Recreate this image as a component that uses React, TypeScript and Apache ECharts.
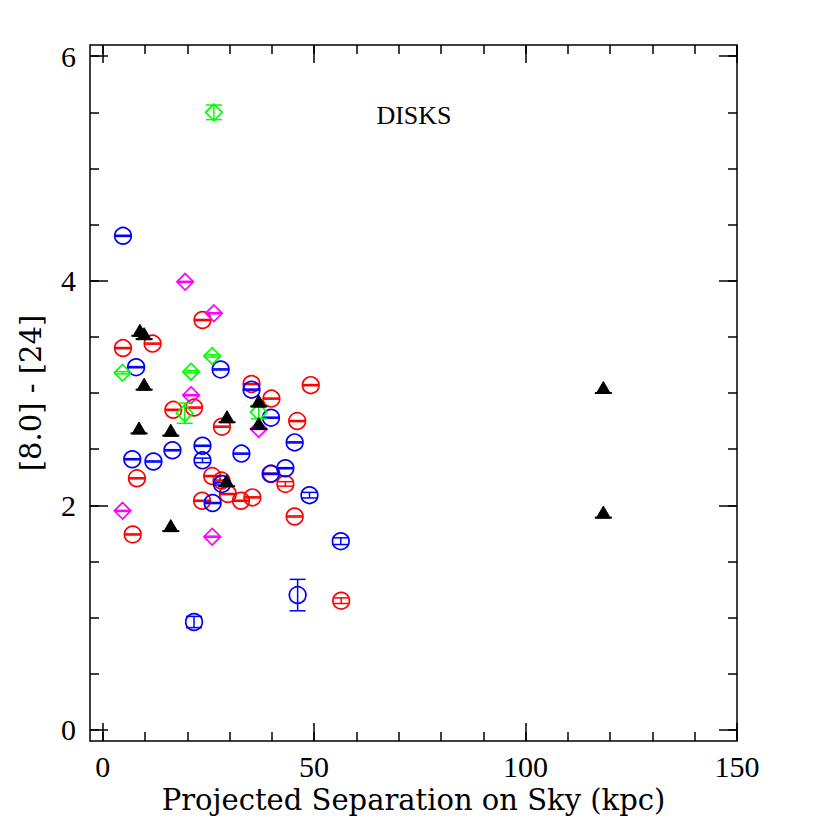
import React, { useEffect, useRef } from "react";
import * as echarts from "echarts";

const X_MIN = -3;
const X_MAX = 150;
const Y_MIN = -0.1;
const Y_MAX = 6.1;

const xMajorTicks = [0, 50, 100, 150];
const xMinorTicks = [0, 10, 20, 30, 40, 50, 60, 70, 80, 90, 100, 110, 120, 130, 140, 150];
const yMajorTicks = [0, 2, 4, 6];
const yMinorTicks = [0, 0.5, 1, 1.5, 2, 2.5, 3, 3.5, 4, 4.5, 5, 5.5, 6];

const xTitle = "Projected Separation on Sky (kpc)";
const yTitle = "[8.0] - [24]";
const panelLabel = "DISKS";

// red open circles
const redX = [4.8, 11.8, 23.6, 35.2, 39.9, 49.2, 16.7, 21.6, 28.2, 46.0, 8.1, 25.9, 28.1, 29.6, 23.5, 32.7, 35.4, 39.9, 43.2, 45.4, 7.1, 56.4];
const redY = [3.40, 3.44, 3.65, 3.08, 2.95, 3.07, 2.85, 2.87, 2.70, 2.75, 2.24, 2.26, 2.22, 2.10, 2.04, 2.04, 2.07, 2.28, 2.19, 1.90, 1.74, 1.15];
const redErr = [0.005, 0.005, 0.005, 0.005, 0.005, 0.005, 0.005, 0.005, 0.005, 0.005, 0.005, 0.005, 0.005, 0.005, 0.005, 0.005, 0.005, 0.005, 0.02, 0.005, 0.005, 0.025];

// blue open circles
const blueX = [4.8, 7.9, 27.9, 35.2, 39.8, 16.5, 23.6, 23.6, 7.0, 12.0, 32.8, 45.4, 43.2, 39.7, 28.2, 26.0, 48.9, 56.3, 21.6, 46.1];
const blueY = [4.40, 3.23, 3.21, 3.03, 2.78, 2.49, 2.53, 2.40, 2.41, 2.39, 2.46, 2.56, 2.33, 2.28, 2.19, 2.02, 2.09, 1.68, 0.96, 1.20];
const blueErr = [0.005, 0.005, 0.005, 0.005, 0.005, 0.005, 0.005, 0.02, 0.005, 0.005, 0.005, 0.005, 0.005, 0.005, 0.01, 0.005, 0.025, 0.03, 0.05, 0.14];

// magenta open diamonds
const magX = [19.5, 26.3, 20.9, 36.9, 4.7, 25.9];
const magY = [3.99, 3.71, 2.98, 2.68, 1.95, 1.72];
const magErr = [0.005, 0.005, 0.005, 0.005, 0.005, 0.005];

// green open diamonds
const greenX = [26.3, 25.9, 4.7, 20.9, 19.4, 36.9];
const greenY = [5.50, 3.33, 3.18, 3.19, 2.82, 2.83];
const greenErr = [0.065, 0.01, 0.01, 0.01, 0.09, 0.06];

// black filled triangles
const blackX = [8.8, 9.8, 9.8, 8.6, 16.1, 29.4, 36.9, 36.9, 29.3, 16.1, 118.4, 118.4];
const blackY = [3.55, 3.52, 3.07, 2.68, 2.66, 2.78, 2.92, 2.72, 2.21, 1.81, 3.04, 1.93];
const blackErr = [0.005, 0.005, 0.005, 0.005, 0.005, 0.005, 0.005, 0.005, 0.005, 0.005, 0.005, 0.005];

const SERIF = "Liberation Serif";
const TITLE_FONT = "DejaVu Serif";

function markerSeries(name: string, xs: number[], ys: number[], es: number[], kind: string, color: string, z: number) {
  const data = xs.map((x, i) => [x, ys[i], es[i]]);
  return {
    type: "custom",
    name,
    z,
    xAxisIndex: 0,
    yAxisIndex: 0,
    data,
    renderItem: (params: any, api: any) => {
      const x = api.value(0) as number;
      const y = api.value(1) as number;
      const e = api.value(2) as number;
      const c = api.coord([x, y]);
      const cx = c[0];
      const cy = c[1];
      const yt = api.coord([x, y + e])[1];
      const yb = api.coord([x, y - e])[1];
      const children: any[] = [];
      const ls = { stroke: color, lineWidth: 1.7, fill: null };
      const cap = 8;
      if (kind === "triangle") {
        children.push({
          type: "polygon",
          shape: { points: [[cx, cy - 7], [cx - 7, cy + 5], [cx + 7, cy + 5]] },
          style: { fill: color, stroke: color, lineWidth: 1 },
        });
        children.push({ type: "line", shape: { x1: cx - 8.5, y1: cy + 4.5, x2: cx + 8.5, y2: cy + 4.5 }, style: { stroke: color, lineWidth: 2 } });
        children.push({ type: "line", shape: { x1: cx, y1: yt, x2: cx, y2: yb }, style: { stroke: color, lineWidth: 1.5 } });
        return { type: "group", children };
      }
      if (kind === "circle") {
        children.push({ type: "circle", shape: { cx, cy, r: 8.3 }, style: ls });
      } else {
        children.push({
          type: "polygon",
          shape: { points: [[cx, cy - 8.3], [cx + 8.3, cy], [cx, cy + 8.3], [cx - 8.3, cy]] },
          style: ls,
        });
      }
      children.push({ type: "line", shape: { x1: cx, y1: yt, x2: cx, y2: yb }, style: { stroke: color, lineWidth: 1.5 } });
      children.push({ type: "line", shape: { x1: cx - cap, y1: yt, x2: cx + cap, y2: yt }, style: { stroke: color, lineWidth: 1.5 } });
      children.push({ type: "line", shape: { x1: cx - cap, y1: yb, x2: cx + cap, y2: yb }, style: { stroke: color, lineWidth: 1.5 } });
      return { type: "group", children };
    },
  };
}

function makeXAxis(pos: string, ticks: number[], len: number, withLabel: boolean, withName: boolean) {
  const ax: any = {
    type: "value",
    gridIndex: 0,
    min: X_MIN,
    max: X_MAX,
    position: pos,
    axisLine: { show: false, onZero: false },
    splitLine: { show: false },
    axisTick: { show: true, inside: true, length: len, customValues: ticks, lineStyle: { color: "#000", width: 1.5 } },
    axisLabel: withLabel
      ? { show: true, customValues: ticks, margin: 10, color: "#000", fontFamily: SERIF, fontSize: 30 }
      : { show: false },
  };
  if (withName) {
    ax.name = xTitle;
    ax.nameLocation = "middle";
    ax.nameGap = 44;
    ax.nameTextStyle = { color: "#000", fontFamily: TITLE_FONT, fontSize: 29 };
  }
  return ax;
}

function makeYAxis(pos: string, ticks: number[], len: number, withLabel: boolean, withName: boolean) {
  const ax: any = {
    type: "value",
    gridIndex: 0,
    min: Y_MIN,
    max: Y_MAX,
    position: pos,
    axisLine: { show: false, onZero: false },
    splitLine: { show: false },
    axisTick: { show: true, inside: true, length: len, customValues: ticks, lineStyle: { color: "#000", width: 1.5 } },
    axisLabel: withLabel
      ? { show: true, customValues: ticks, margin: 14, color: "#000", fontFamily: SERIF, fontSize: 30 }
      : { show: false },
  };
  if (withName) {
    ax.name = yTitle;
    ax.nameLocation = "middle";
    ax.nameGap = 45;
    ax.nameTextStyle = { color: "#000", fontFamily: TITLE_FONT, fontSize: 29 };
  }
  return ax;
}

export default function App() {
  const ref = useRef<HTMLDivElement>(null);
  useEffect(() => {
    if (!ref.current) return;
    const chart = echarts.init(ref.current, null, { renderer: "svg" });
    chart.setOption({
      animation: false,
      backgroundColor: "#fff",
      grid: { left: 90, right: 93, top: 45, bottom: 89, show: true, borderColor: "#000", borderWidth: 1.5, backgroundColor: "transparent" },
      xAxis: [
        makeXAxis("bottom", xMajorTicks, 18, true, true),
        makeXAxis("bottom", xMinorTicks, 9, false, false),
        makeXAxis("top", xMajorTicks, 18, false, false),
        makeXAxis("top", xMinorTicks, 9, false, false),
      ],
      yAxis: [
        makeYAxis("left", yMajorTicks, 18, true, true),
        makeYAxis("left", yMinorTicks, 9, false, false),
        makeYAxis("right", yMajorTicks, 18, false, false),
        makeYAxis("right", yMinorTicks, 9, false, false),
      ],
      graphic: [
        {
          type: "text",
          x: 414,
          y: 115,
          style: { text: panelLabel, fontFamily: SERIF, fontSize: 26, fill: "#000", textAlign: "center", textVerticalAlign: "middle" },
        },
      ],
      series: [
        markerSeries("red", redX, redY, redErr, "circle", "#ff0000", 2),
        markerSeries("blue", blueX, blueY, blueErr, "circle", "#0000ff", 3),
        markerSeries("magenta", magX, magY, magErr, "diamond", "#ff00ff", 4),
        markerSeries("green", greenX, greenY, greenErr, "diamond", "#00ff00", 5),
        markerSeries("black", blackX, blackY, blackErr, "triangle", "#000000", 6),
      ],
    });
    return () => chart.dispose();
  }, []);
  return <div ref={ref} style={{ position: "fixed", left: 0, top: 0, width: 830, height: 830 }} />;
}
